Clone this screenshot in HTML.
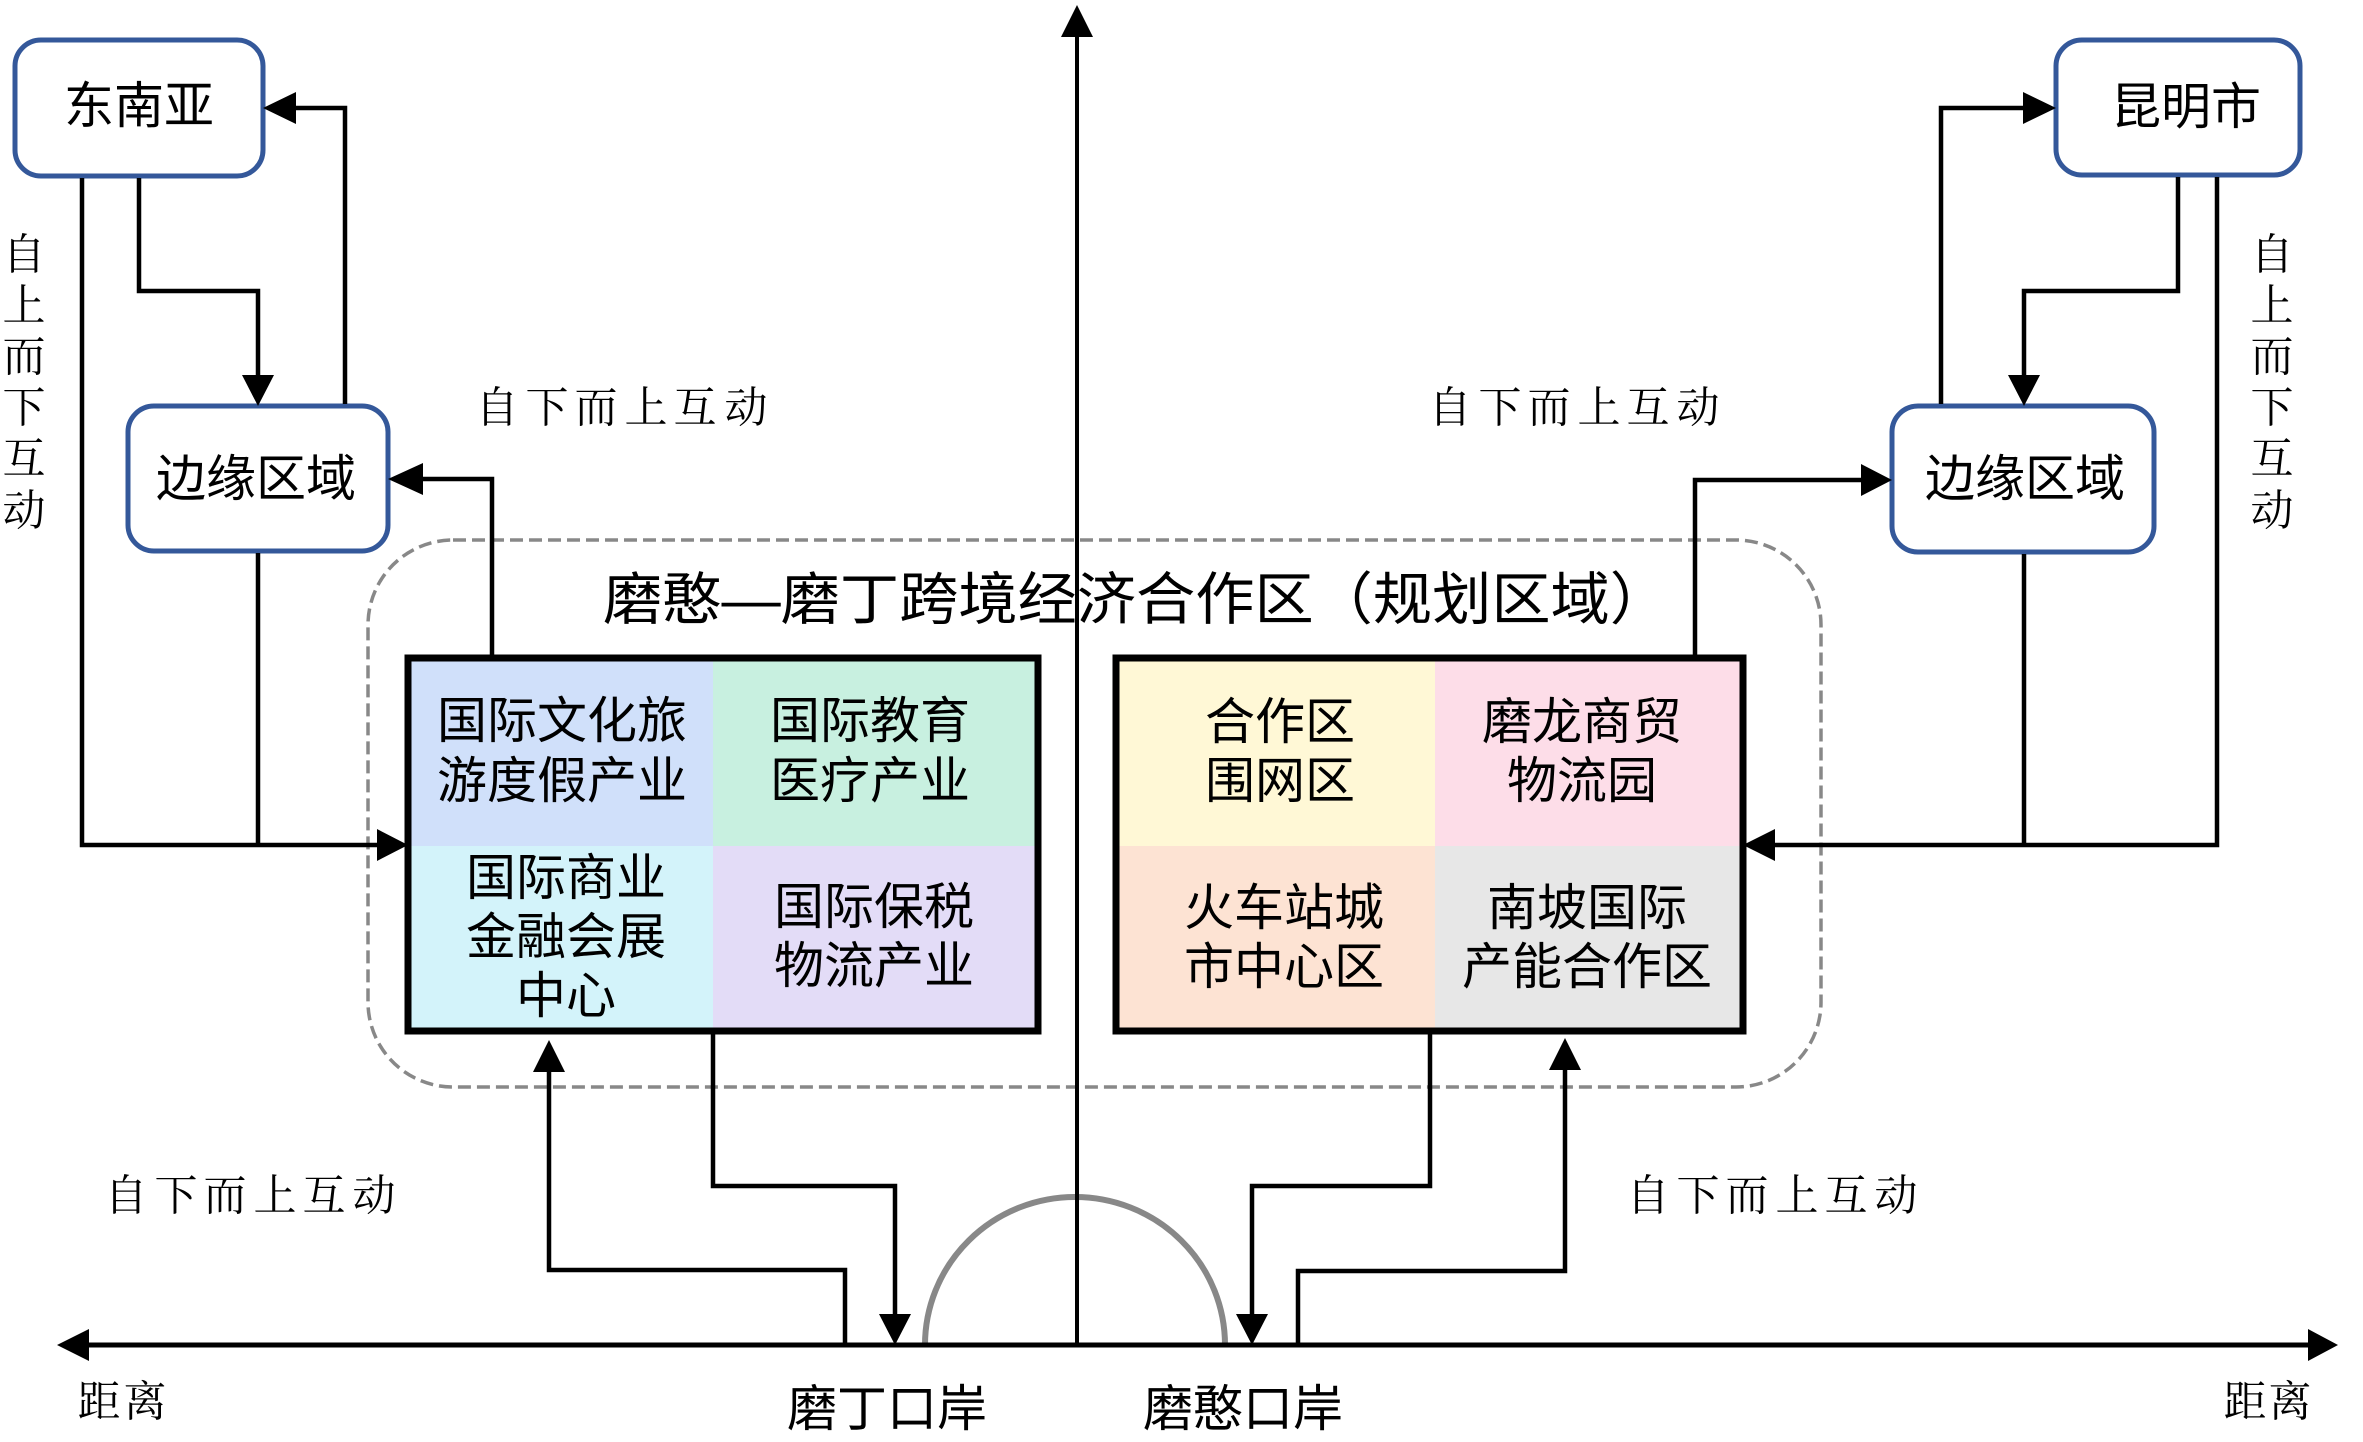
<!DOCTYPE html>
<html>
<head>
<meta charset="utf-8">
<style>
html,body{margin:0;padding:0;background:#fff;}
svg{display:block;}
.s{font-family:"Liberation Sans","Noto Sans CJK SC",sans-serif;fill:#000;}
.k{font-family:"Liberation Serif","Noto Serif CJK SC",serif;fill:#000;}
</style>
</head>
<body>
<svg width="2363" height="1442" viewBox="0 0 2363 1442" xmlns="http://www.w3.org/2000/svg">
<rect x="0" y="0" width="2363" height="1442" fill="#fff"/>

<!-- dashed region box -->
<rect x="368" y="540" width="1453" height="547" rx="85" ry="85" fill="none" stroke="#888" stroke-width="3.5" stroke-dasharray="13 6"/>

<!-- semicircle -->
<path d="M925,1345 A150,148 0 0 1 1225,1345" fill="none" stroke="#888" stroke-width="6"/>

<!-- axes -->
<g stroke="#000" fill="none">
<line x1="1077" y1="35" x2="1077" y2="1345" stroke-width="4"/>
<line x1="87" y1="1345" x2="2310" y2="1345" stroke-width="5"/>
</g>
<g fill="#000">
<polygon points="1077,5 1061,37 1093,37"/>
<polygon points="57,1345 89,1329 89,1361"/>
<polygon points="2338,1345 2308,1329 2308,1361"/>
</g>

<!-- left grid -->
<rect x="408" y="658" width="305" height="188" fill="#d0e0fa"/>
<rect x="713" y="658" width="325" height="188" fill="#c8f0e0"/>
<rect x="408" y="846" width="305" height="185" fill="#d3f3fa"/>
<rect x="713" y="846" width="325" height="185" fill="#e3dcf7"/>
<rect x="408" y="658" width="630" height="373" fill="none" stroke="#000" stroke-width="7"/>

<!-- right grid -->
<rect x="1116" y="658" width="319" height="188" fill="#fff8d6"/>
<rect x="1435" y="658" width="308" height="188" fill="#fddde8"/>
<rect x="1116" y="846" width="319" height="185" fill="#fde3d3"/>
<rect x="1435" y="846" width="308" height="185" fill="#e7e7e7"/>
<rect x="1116" y="658" width="627" height="373" fill="none" stroke="#000" stroke-width="7"/>

<!-- node boxes -->
<g fill="#fff" stroke="#34589a" stroke-width="5">
<rect x="15" y="40" width="248" height="136" rx="26" ry="26"/>
<rect x="128" y="406" width="260" height="145" rx="26" ry="26"/>
<rect x="2056" y="40" width="244" height="135" rx="26" ry="26"/>
<rect x="1892" y="406" width="262" height="146" rx="26" ry="26"/>
</g>

<!-- connectors -->
<g stroke="#000" stroke-width="4.5" fill="none" stroke-linejoin="miter">
<polyline points="139,178 139,291 258,291 258,378"/>
<polyline points="345,404 345,108 294,108"/>
<polyline points="82,178 82,845 380,845"/>
<line x1="258" y1="553" x2="258" y2="845"/>
<polyline points="492,655 492,479 421,479"/>
<polyline points="845,1345 845,1270 549,1270 549,1070"/>
<polyline points="713,1034 713,1186 895,1186 895,1316"/>

<polyline points="2178,177 2178,291 2024,291 2024,378"/>
<polyline points="1941,404 1941,108 2025,108"/>
<polyline points="2217,177 2217,845 1773,845"/>
<line x1="2024" y1="554" x2="2024" y2="845"/>
<polyline points="1695,655 1695,480 1864,480"/>
<polyline points="1430,1034 1430,1186 1252,1186 1252,1316"/>
<polyline points="1298,1345 1298,1271 1565,1271 1565,1068"/>
</g>
<g fill="#000">
<polygon points="258,406 242,375 274,375"/>
<polygon points="263,108 296,92 296,124"/>
<polygon points="408,845 377,829 377,861"/>
<polygon points="388,479 423,463 423,495"/>
<polygon points="549,1040 533,1072 565,1072"/>
<polygon points="895,1345 879,1314 911,1314"/>

<polygon points="2024,406 2008,375 2040,375"/>
<polygon points="2056,108 2023,92 2023,124"/>
<polygon points="1743,845 1775,829 1775,861"/>
<polygon points="1892,480 1861,464 1861,496"/>
<polygon points="1252,1345 1236,1314 1268,1314"/>
<polygon points="1565,1038 1549,1070 1581,1070"/>
</g>

<!-- title -->
<text class="s" x="603" y="600" font-size="57" dominant-baseline="central" textLength="1066" lengthAdjust="spacingAndGlyphs">磨憨—磨丁跨境经济合作区（规划区域）</text>

<!-- node labels -->
<g class="s" font-size="50" text-anchor="middle" dominant-baseline="central">
<text x="139" y="106">东南亚</text>
<text x="256" y="479">边缘区域</text>
<text x="2186" y="107">昆明市</text>
<text x="2025" y="479">边缘区域</text>

<text x="562" y="721">国际文化旅</text>
<text x="562" y="781">游度假产业</text>
<text x="870" y="721">国际教育</text>
<text x="870" y="781">医疗产业</text>
<text x="566" y="878">国际商业</text>
<text x="566" y="937">金融会展</text>
<text x="566" y="996">中心</text>
<text x="874" y="907">国际保税</text>
<text x="874" y="966">物流产业</text>

<text x="1280" y="722">合作区</text>
<text x="1280" y="781">围网区</text>
<text x="1582" y="722">磨龙商贸</text>
<text x="1582" y="781">物流园</text>
<text x="1284" y="908">火车站城</text>
<text x="1284" y="967">市中心区</text>
<text x="1587" y="908">南坡国际</text>
<text x="1587" y="967">产能合作区</text>

<text x="887" y="1409">磨丁口岸</text>
<text x="1243" y="1409">磨憨口岸</text>
</g>

<!-- kai-style labels -->
<g class="k" font-size="43" text-anchor="middle" dominant-baseline="central">
<text x="497 547 596 646 695 746" y="409">自下而上互动</text>
<text x="1450 1500 1549 1599 1648 1698" y="409">自下而上互动</text>
<text x="126 176 225 275 324 374" y="1197">自下而上互动</text>
<text x="1648 1698 1747 1797 1846 1896" y="1197">自下而上互动</text>
<text x="99 145" y="1403">距离</text>
<text x="2245 2290" y="1403">距离</text>
<text x="24" y="256">自</text>
<text x="24" y="307">上</text>
<text x="24" y="358">而</text>
<text x="24" y="409">下</text>
<text x="24" y="460">互</text>
<text x="24" y="512">动</text>
<text x="2272" y="256">自</text>
<text x="2272" y="307">上</text>
<text x="2272" y="358">而</text>
<text x="2272" y="409">下</text>
<text x="2272" y="460">互</text>
<text x="2272" y="512">动</text>
</g>
</svg>
</body>
</html>
